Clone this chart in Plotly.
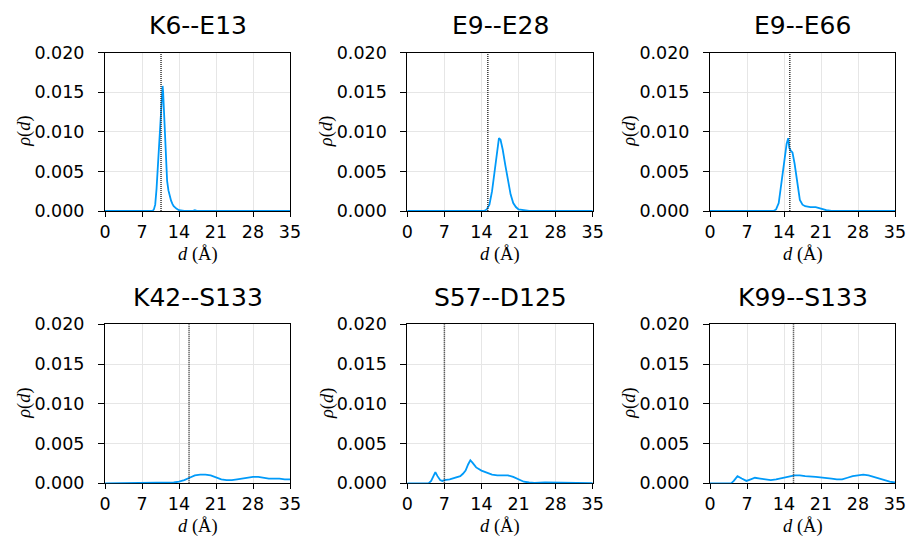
import plotly.graph_objects as go

# Pair labels and reference distances (dotted lines)
pairs = ["K6--E13", "E9--E28", "E9--E66", "K42--S133", "S57--D125", "K99--S133"]
ref_d = [10.6, 15.2, 15.1, 15.9, 7.0, 15.8]

# Distance distributions rho(d)
d_k6_e13 = [0, 9.0, 9.25, 9.5, 9.75, 10.0, 10.25, 10.5, 10.75, 10.9, 11.0, 11.15, 11.3, 11.5,
            11.75, 12.0, 12.25, 12.5, 12.75, 13.0, 13.5, 14.0, 15.0, 16.5, 17.0, 17.5, 35]
r_k6_e13 = [0, 0, 0.0002, 0.0008, 0.0028, 0.0058, 0.0092, 0.0125, 0.0150, 0.0158, 0.0150, 0.0125,
            0.0090, 0.0058, 0.0038, 0.0026, 0.0018, 0.0013, 0.0009, 0.0006, 0.0003, 0.0001, 0, 0,
            0.0001, 0, 0]

d_e9_e28 = [0, 14.5, 15.0, 15.5, 16.0, 16.5, 17.0, 17.3, 17.6, 18.0, 18.5, 19.0, 19.5, 20.0,
            20.5, 21.0, 22.0, 23.0, 35]
r_e9_e28 = [0, 0, 0.0002, 0.0008, 0.0025, 0.0052, 0.0082, 0.0092, 0.0090, 0.0078, 0.0058,
            0.0038, 0.0021, 0.0010, 0.0005, 0.0002, 0.0001, 0, 0]

d_e9_e66 = [0, 12.0, 12.5, 13.0, 13.5, 14.0, 14.5, 14.8, 15.0, 15.3, 15.6, 16.0, 16.5, 17.0,
            17.5, 18.0, 19.0, 20.0, 21.0, 22.0, 23.0, 35]
r_e9_e66 = [0, 0, 0.0002, 0.0010, 0.0035, 0.0062, 0.0085, 0.0092, 0.0080, 0.0076, 0.0074,
            0.0060, 0.0035, 0.0014, 0.0008, 0.0006, 0.0005, 0.0005, 0.0003, 0.0001, 0, 0]

d_k42_s133 = [0, 12, 13, 14, 15, 16, 17, 18, 19, 20, 21, 22, 23, 24, 25, 26, 27, 28, 29, 30,
              31, 32, 33, 34, 35]
r_k42_s133 = [0, 0.00002, 0.0001, 0.0002, 0.0004, 0.0007, 0.0010, 0.0011, 0.0011, 0.0010,
              0.0007, 0.0005, 0.0004, 0.0004, 0.0005, 0.0006, 0.0007, 0.0008, 0.0008, 0.0007,
              0.0006, 0.0006, 0.0006, 0.0005, 0.0005]

d_s57_d125 = [0, 4.0, 4.5, 5.0, 5.3, 5.7, 6.2, 6.6, 7.0, 8.0, 9.0, 10.0, 10.5, 11.0, 11.5, 11.9,
              12.3, 13.0, 14.0, 15.0, 16.0, 17.0, 18.0, 19.0, 20.0, 21.0, 22.0, 23.0, 24.0,
              26.0, 27.0, 28.0, 30.0, 35]
r_s57_d125 = [0, 0, 0.0003, 0.0010, 0.0014, 0.0009, 0.0004, 0.0003, 0.0004, 0.0005, 0.0007,
              0.0009, 0.0012, 0.0016, 0.0024, 0.0029, 0.0026, 0.0020, 0.0016, 0.0013, 0.0011,
              0.0010, 0.0010, 0.0010, 0.0008, 0.0005, 0.0002, 0.0001, 0.00005, 0.0001, 0.0001,
              0.00005, 0.00005, 0.00003]

d_k99_s133 = [0, 4.0, 4.5, 5.2, 6.0, 6.9, 7.7, 8.5, 9.5, 10.5, 11.5, 12.5, 14.0, 15.0, 16.0,
              17.0, 18.0, 20.0, 22.0, 23.0, 24.0, 25.0, 26.0, 27.0, 28.0, 29.0, 30.0, 31.0,
              32.0, 33.0, 34.0, 35.0]
r_k99_s133 = [0, 0, 0.0003, 0.0009, 0.0006, 0.0003, 0.0005, 0.0007, 0.0006, 0.0005, 0.0004,
              0.0005, 0.0007, 0.0008, 0.0010, 0.0010, 0.0009, 0.0008, 0.0007, 0.0006, 0.0005,
              0.0005, 0.0007, 0.0009, 0.0010, 0.0011, 0.0010, 0.0008, 0.0006, 0.0004, 0.0002,
              0.0001]

series_d = [d_k6_e13, d_e9_e28, d_e9_e66, d_k42_s133, d_s57_d125, d_k99_s133]
series_r = [r_k6_e13, r_e9_e28, r_e9_e66, r_k42_s133, r_s57_d125, r_k99_s133]

x_ticks = [0, 7, 14, 21, 28, 35]
y_ticks = [0.0, 0.005, 0.010, 0.015, 0.020]
y_tick_text = ["0.000", "0.005", "0.010", "0.015", "0.020"]

W, H = 907, 536
col_px = [(105, 290), (407.3, 592.7), (710, 895)]
row_px = [(52.7, 211), (324.3, 483.3)]

LINE = "#009AF9"
GRID = "#e6e6e6"
TICK_FONT = dict(family="DejaVu Sans", size=17.5, color="black")
MATH_FONT = dict(family="Liberation Serif", size=18.5, color="black")

fig = go.Figure()
annotations = []

for i, name in enumerate(pairs):
    r, c = divmod(i, 3)
    x0, x1 = col_px[c]
    y0, y1 = row_px[r]
    xa = "x" if i == 0 else f"x{i+1}"
    ya = "y" if i == 0 else f"y{i+1}"
    xkey = "xaxis" if i == 0 else f"xaxis{i+1}"
    ykey = "yaxis" if i == 0 else f"yaxis{i+1}"

    fig.add_trace(go.Scatter(
        x=series_d[i], y=series_r[i], mode="lines",
        line=dict(color=LINE, width=1.8), xaxis=xa, yaxis=ya, showlegend=False))
    fig.add_trace(go.Scatter(
        x=[ref_d[i], ref_d[i]], y=[0, 0.02], mode="lines",
        line=dict(color="#333333", width=1.5, dash="1px,1px"),
        xaxis=xa, yaxis=ya, showlegend=False))

    fig.layout[xkey] = dict(
        domain=[x0 / W, x1 / W], anchor=ya, range=[0, 35], automargin=False,
        tickmode="array", tickvals=x_ticks, ticktext=[str(t) for t in x_ticks],
        ticks="outside", ticklen=5, tickcolor="black", tickwidth=1,
        showline=True, linecolor="black", linewidth=1, mirror=True,
        showgrid=True, gridcolor=GRID, gridwidth=1, zeroline=False,
        tickfont=TICK_FONT, layer="below traces", fixedrange=True)
    fig.layout[ykey] = dict(
        domain=[1 - y1 / H, 1 - y0 / H], anchor=xa, range=[0, 0.02], automargin=False,
        tickmode="array", tickvals=y_ticks, ticktext=y_tick_text,
        ticks="outside", ticklen=6, tickcolor="black", tickwidth=1,
        ticklabelstandoff=10,
        showline=True, linecolor="black", linewidth=1, mirror=True,
        showgrid=True, gridcolor=GRID, gridwidth=1, zeroline=False,
        tickfont=TICK_FONT, layer="below traces", fixedrange=True)

    cx = (x0 + x1) / 2 / W
    # panel title
    annotations.append(dict(
        text=name, x=cx, y=1 - (y0 - 27) / H, xref="paper", yref="paper",
        xanchor="center", yanchor="middle", showarrow=False,
        font=dict(family="DejaVu Sans", size=25, color="black")))
    # x-axis title
    annotations.append(dict(
        text="<i>d</i> (Å)", x=cx, y=1 - (y1 + 43.5) / H, xref="paper", yref="paper",
        xanchor="center", yanchor="middle", showarrow=False, font=MATH_FONT))
    # y-axis title
    annotations.append(dict(
        text="<i>ρ</i>(<i>d</i>)", x=(x0 - 80) / W, y=1 - (y0 + y1) / 2 / H,
        xref="paper", yref="paper", xanchor="center", yanchor="middle",
        textangle=-90, showarrow=False, font=MATH_FONT))

fig.update_layout(
    template="none",
    width=W, height=H, margin=dict(l=0, r=0, t=0, b=0, pad=0, autoexpand=False),
    paper_bgcolor="white", plot_bgcolor="white",
    annotations=annotations)

fig.write_html("out.html", config={"displayModeBar": False})
